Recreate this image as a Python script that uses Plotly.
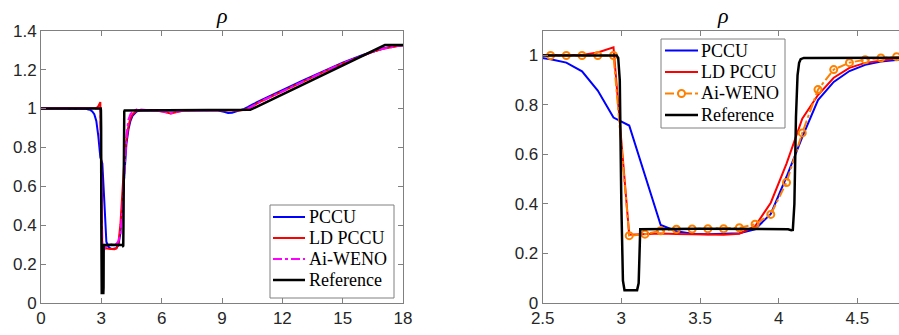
import plotly.graph_objects as go

# ---------------- data ----------------
x_num = [0.0, 2.0, 2.25, 2.35, 2.45, 2.55, 2.65, 2.75, 2.85, 2.95, 3.05, 3.15, 3.25, 3.35,
         3.45, 3.55, 3.65, 3.75, 3.85, 3.95, 4.05, 4.15, 4.25, 4.35, 4.45, 4.55, 4.65,
         4.75, 4.85, 4.95, 5.3, 5.8, 6.1, 6.3, 6.45, 6.6, 6.8, 7.1, 8.0, 8.8, 9.1, 9.3,
         9.5, 9.7, 9.9, 10.1, 10.3, 10.5, 11.0, 12.0, 13.0, 14.0, 15.0, 16.0, 16.5, 17.0,
         17.4, 17.8, 18.0]

pccu = [1.0, 1.0, 0.998, 0.995, 0.993, 0.985, 0.971, 0.936, 0.858, 0.749, 0.717, 0.52, 0.315,
        0.29, 0.28, 0.278, 0.279, 0.282, 0.298, 0.36, 0.51, 0.67, 0.82, 0.893, 0.937, 0.962,
        0.976, 0.984, 0.988, 0.99, 0.991, 0.991, 0.99, 0.989, 0.988, 0.989, 0.99, 0.991,
        0.991, 0.99, 0.983, 0.977, 0.978, 0.984, 0.99, 0.998, 1.008, 1.02, 1.045, 1.095,
        1.143, 1.19, 1.235, 1.275, 1.293, 1.308, 1.317, 1.323, 1.325]

ld_pccu = [1.0, 1.0, 1.0, 1.0, 1.0, 1.0, 1.0, 1.002, 1.012, 1.033, 0.276, 0.28, 0.281, 0.279,
           0.277, 0.276, 0.276, 0.28, 0.31, 0.405, 0.563, 0.745, 0.84, 0.91, 0.95, 0.97,
           0.98, 0.988, 0.99, 0.991, 0.992, 0.99, 0.985, 0.978, 0.975, 0.978, 0.985, 0.99,
           0.991, 0.991, 0.99, 0.989, 0.989, 0.989, 0.99, 0.993, 1.0, 1.012, 1.04, 1.088,
           1.138, 1.186, 1.232, 1.274, 1.292, 1.307, 1.316, 1.322, 1.325]

ai_weno = [1.0, 1.0, 1.0, 1.0, 1.0, 1.0, 1.0, 1.0, 1.0, 1.0, 0.272, 0.278, 0.292, 0.298,
           0.299, 0.3, 0.3, 0.304, 0.318, 0.358, 0.487, 0.687, 0.862, 0.943, 0.971, 0.983,
           0.99, 0.995, 0.996, 0.995, 0.993, 0.99, 0.985, 0.978, 0.975, 0.978, 0.985, 0.99,
           0.991, 0.991, 0.99, 0.989, 0.989, 0.989, 0.99, 0.993, 1.0, 1.012, 1.04, 1.088,
           1.138, 1.186, 1.232, 1.274, 1.292, 1.307, 1.316, 1.322, 1.325]

ref_x = [0.0, 2.97, 2.98, 2.99, 3.0, 3.01, 3.02, 3.10, 3.11, 3.115, 3.12, 3.5, 4.0, 4.06,
         4.08, 4.09, 4.10, 4.11, 4.12, 4.13, 4.14, 4.16, 4.2, 10.4, 17.1, 18.0]
ref_y = [1.0, 1.0, 0.99, 0.9, 0.4, 0.09, 0.052, 0.052, 0.08, 0.25, 0.298, 0.3, 0.3, 0.298,
         0.294, 0.295, 0.4, 0.75, 0.92, 0.97, 0.985, 0.99, 0.99, 0.993, 1.326, 1.326]

names = ["PCCU", "LD PCCU", "Ai-WENO", "Reference"]
left_xticks = [0, 3, 6, 9, 12, 15, 18]
left_yticks = [0, 0.2, 0.4, 0.6, 0.8, 1.0, 1.2, 1.4]
left_yticktext = ["0", "0.2", "0.4", "0.6", "0.8", "1", "1.2", "1.4"]
right_xticks = [2.5, 3, 3.5, 4, 4.5]
right_xticktext = ["2.5", "3", "3.5", "4", "4.5"]
right_yticks = [0, 0.2, 0.4, 0.6, 0.8, 1.0]
right_yticktext = ["0", "0.2", "0.4", "0.6", "0.8", "1"]

# ---------------- figure ----------------
W, H = 899, 335
fig = go.Figure()

BLUE, RED, MAG, ORANGE, BLACK = "#0000FF", "#FF0000", "#FF00FF", "#FF8000", "#000000"
left_styles = [dict(color=BLUE, width=2), dict(color=RED, width=2),
               dict(color=MAG, width=2, dash="dashdot"), dict(color=BLACK, width=2.5)]
right_styles = [dict(color=BLUE, width=2), dict(color=RED, width=2),
                dict(color=ORANGE, width=2, dash="dashdot"), dict(color=BLACK, width=2.5)]
series_x = [x_num, x_num, x_num, ref_x]
series_y = [pccu, ld_pccu, ai_weno, ref_y]

for i in range(4):
    fig.add_trace(go.Scatter(x=series_x[i], y=series_y[i], mode="lines", name=names[i],
                             line=left_styles[i], xaxis="x", yaxis="y", showlegend=False))
for i in range(4):
    if i == 2:
        kw = dict(mode="lines+markers",
                  marker=dict(symbol="circle-open", size=7, color=ORANGE,
                              line=dict(width=2, color=ORANGE)))
    else:
        kw = dict(mode="lines")
    fig.add_trace(go.Scatter(x=series_x[i], y=series_y[i], name=names[i],
                             line=right_styles[i], xaxis="x2", yaxis="y2", showlegend=False,
                             **kw))

top_px, bot_px = 30.7, 303.0
AX = "#808080"
SANS = "Liberation Sans"
SERIF = "Liberation Serif"
tickfont = dict(family=SANS, size=17, color="#262626")

common = dict(showgrid=False, zeroline=False, showline=True, linecolor=AX, linewidth=1,
              ticks="inside", ticklen=5, tickcolor=AX, tickfont=tickfont, automargin=False)

shapes = []
annotations = []


def px(x):
    return x / W


def py(y):
    return 1 - y / H


ydom = [py(bot_px), py(top_px)]


def add_legend(box, line_x0, line_x1, text_x, rows, styles, marker_row=None):
    bx0, by0, bx1, by1 = box
    shapes.append(dict(type="rect", xref="paper", yref="paper", x0=px(bx0), x1=px(bx1),
                       y0=py(by1), y1=py(by0), line=dict(color=AX, width=1),
                       fillcolor="white", layer="above"))
    for k, yy in enumerate(rows):
        shapes.append(dict(type="line", xref="paper", yref="paper", x0=px(line_x0),
                           x1=px(line_x1), y0=py(yy), y1=py(yy), line=styles[k],
                           layer="above"))
        annotations.append(dict(text=names[k], x=px(text_x), y=py(yy), xref="paper",
                                yref="paper", showarrow=False, xanchor="left",
                                yanchor="middle",
                                font=dict(family=SERIF, size=18, color="#000000")))
        if marker_row == k:
            cx = (line_x0 + line_x1) / 2
            r = 3.5
            shapes.append(dict(type="circle", xref="paper", yref="paper", x0=px(cx - r),
                               x1=px(cx + r), y0=py(yy + r), y1=py(yy - r),
                               line=dict(color=ORANGE, width=2), fillcolor="white",
                               layer="above"))


add_legend((270, 205, 394, 298), 273, 305, 307, [217, 238, 259, 280], left_styles)
add_legend((661, 39, 785, 128), 665, 698, 699, [50.5, 72, 93.5, 115], right_styles,
           marker_row=2)

annotations += [
    dict(text="<i>ρ</i>", x=px(222), y=py(15), xref="paper", yref="paper",
         showarrow=False, xanchor="center", yanchor="middle",
         font=dict(family=SERIF, size=22, color="#000000")),
    dict(text="<i>ρ</i>", x=px(723), y=py(15), xref="paper", yref="paper",
         showarrow=False, xanchor="center", yanchor="middle",
         font=dict(family=SERIF, size=22, color="#000000")),
]

fig.update_layout(
    width=W, height=H, margin=dict(l=0, r=0, t=0, b=0, pad=0, autoexpand=False),
    paper_bgcolor="white", plot_bgcolor="white",
    font=dict(family=SANS),
    showlegend=False,
    xaxis=dict(domain=[px(41), px(403)], range=[0, 18], tickvals=left_xticks,
               anchor="y", mirror="ticks", **common),
    yaxis=dict(domain=ydom, range=[0, 1.4], tickvals=left_yticks, ticktext=left_yticktext,
               anchor="x", mirror="ticks", **common),
    xaxis2=dict(domain=[px(542.7), 1.0], range=[2.5, 4.765], tickvals=right_xticks,
                ticktext=right_xticktext, anchor="y2", mirror="ticks", **common),
    yaxis2=dict(domain=ydom, range=[0, 1.1], tickvals=right_yticks, ticktext=right_yticktext,
                anchor="x2", mirror=False, **common),
    shapes=shapes,
    annotations=annotations,
)

fig.write_html("out.html")
